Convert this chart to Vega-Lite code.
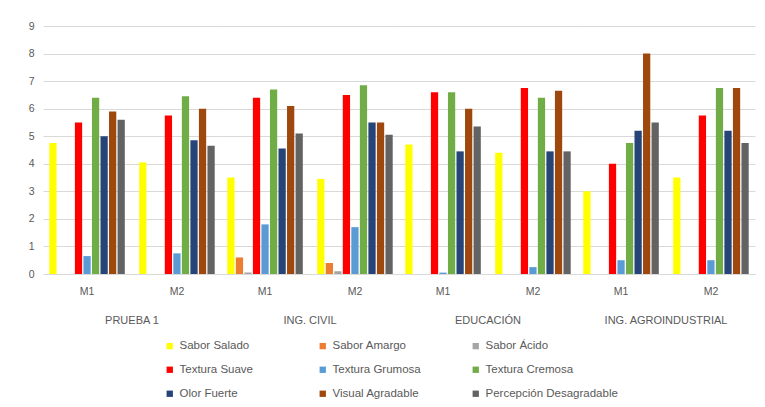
{
  "$schema": "https://vega.github.io/schema/vega-lite/v6.json",
  "background": "white",
  "padding": {"left": 28, "top": 21, "right": 5, "bottom": 5},
  "config": {
    "font": "Liberation Sans",
    "view": {"stroke": null},
    "axis": {"labelColor": "#595959", "labelFontSize": 10.5, "titleColor": "#595959"},
    "header": {"labelColor": "#595959", "labelFontSize": 11}
  },
  "data": {"values": [
    {"grupo": "PRUEBA 1", "muestra": "M1", "serie": "Sabor Salado", "valor": 4.75},
    {"grupo": "PRUEBA 1", "muestra": "M1", "serie": "Sabor Amargo", "valor": 0},
    {"grupo": "PRUEBA 1", "muestra": "M1", "serie": "Sabor Ácido", "valor": 0},
    {"grupo": "PRUEBA 1", "muestra": "M1", "serie": "Textura Suave", "valor": 5.5},
    {"grupo": "PRUEBA 1", "muestra": "M1", "serie": "Textura Grumosa", "valor": 0.65},
    {"grupo": "PRUEBA 1", "muestra": "M1", "serie": "Textura Cremosa", "valor": 6.4},
    {"grupo": "PRUEBA 1", "muestra": "M1", "serie": "Olor Fuerte", "valor": 5.0},
    {"grupo": "PRUEBA 1", "muestra": "M1", "serie": "Visual Agradable", "valor": 5.9},
    {"grupo": "PRUEBA 1", "muestra": "M1", "serie": "Percepción Desagradable", "valor": 5.6},
    {"grupo": "PRUEBA 1", "muestra": "M2", "serie": "Sabor Salado", "valor": 4.05},
    {"grupo": "PRUEBA 1", "muestra": "M2", "serie": "Sabor Amargo", "valor": 0},
    {"grupo": "PRUEBA 1", "muestra": "M2", "serie": "Sabor Ácido", "valor": 0},
    {"grupo": "PRUEBA 1", "muestra": "M2", "serie": "Textura Suave", "valor": 5.75},
    {"grupo": "PRUEBA 1", "muestra": "M2", "serie": "Textura Grumosa", "valor": 0.75},
    {"grupo": "PRUEBA 1", "muestra": "M2", "serie": "Textura Cremosa", "valor": 6.45},
    {"grupo": "PRUEBA 1", "muestra": "M2", "serie": "Olor Fuerte", "valor": 4.85},
    {"grupo": "PRUEBA 1", "muestra": "M2", "serie": "Visual Agradable", "valor": 6.0},
    {"grupo": "PRUEBA 1", "muestra": "M2", "serie": "Percepción Desagradable", "valor": 4.65},
    {"grupo": "ING. CIVIL", "muestra": "M1", "serie": "Sabor Salado", "valor": 3.5},
    {"grupo": "ING. CIVIL", "muestra": "M1", "serie": "Sabor Amargo", "valor": 0.6},
    {"grupo": "ING. CIVIL", "muestra": "M1", "serie": "Sabor Ácido", "valor": 0.05},
    {"grupo": "ING. CIVIL", "muestra": "M1", "serie": "Textura Suave", "valor": 6.4},
    {"grupo": "ING. CIVIL", "muestra": "M1", "serie": "Textura Grumosa", "valor": 1.8},
    {"grupo": "ING. CIVIL", "muestra": "M1", "serie": "Textura Cremosa", "valor": 6.7},
    {"grupo": "ING. CIVIL", "muestra": "M1", "serie": "Olor Fuerte", "valor": 4.55},
    {"grupo": "ING. CIVIL", "muestra": "M1", "serie": "Visual Agradable", "valor": 6.1},
    {"grupo": "ING. CIVIL", "muestra": "M1", "serie": "Percepción Desagradable", "valor": 5.1},
    {"grupo": "ING. CIVIL", "muestra": "M2", "serie": "Sabor Salado", "valor": 3.45},
    {"grupo": "ING. CIVIL", "muestra": "M2", "serie": "Sabor Amargo", "valor": 0.4},
    {"grupo": "ING. CIVIL", "muestra": "M2", "serie": "Sabor Ácido", "valor": 0.1},
    {"grupo": "ING. CIVIL", "muestra": "M2", "serie": "Textura Suave", "valor": 6.5},
    {"grupo": "ING. CIVIL", "muestra": "M2", "serie": "Textura Grumosa", "valor": 1.7},
    {"grupo": "ING. CIVIL", "muestra": "M2", "serie": "Textura Cremosa", "valor": 6.85},
    {"grupo": "ING. CIVIL", "muestra": "M2", "serie": "Olor Fuerte", "valor": 5.5},
    {"grupo": "ING. CIVIL", "muestra": "M2", "serie": "Visual Agradable", "valor": 5.5},
    {"grupo": "ING. CIVIL", "muestra": "M2", "serie": "Percepción Desagradable", "valor": 5.05},
    {"grupo": "EDUCACIÓN", "muestra": "M1", "serie": "Sabor Salado", "valor": 4.7},
    {"grupo": "EDUCACIÓN", "muestra": "M1", "serie": "Sabor Amargo", "valor": 0},
    {"grupo": "EDUCACIÓN", "muestra": "M1", "serie": "Sabor Ácido", "valor": 0},
    {"grupo": "EDUCACIÓN", "muestra": "M1", "serie": "Textura Suave", "valor": 6.6},
    {"grupo": "EDUCACIÓN", "muestra": "M1", "serie": "Textura Grumosa", "valor": 0.05},
    {"grupo": "EDUCACIÓN", "muestra": "M1", "serie": "Textura Cremosa", "valor": 6.6},
    {"grupo": "EDUCACIÓN", "muestra": "M1", "serie": "Olor Fuerte", "valor": 4.45},
    {"grupo": "EDUCACIÓN", "muestra": "M1", "serie": "Visual Agradable", "valor": 6.0},
    {"grupo": "EDUCACIÓN", "muestra": "M1", "serie": "Percepción Desagradable", "valor": 5.35},
    {"grupo": "EDUCACIÓN", "muestra": "M2", "serie": "Sabor Salado", "valor": 4.4},
    {"grupo": "EDUCACIÓN", "muestra": "M2", "serie": "Sabor Amargo", "valor": 0},
    {"grupo": "EDUCACIÓN", "muestra": "M2", "serie": "Sabor Ácido", "valor": 0},
    {"grupo": "EDUCACIÓN", "muestra": "M2", "serie": "Textura Suave", "valor": 6.75},
    {"grupo": "EDUCACIÓN", "muestra": "M2", "serie": "Textura Grumosa", "valor": 0.25},
    {"grupo": "EDUCACIÓN", "muestra": "M2", "serie": "Textura Cremosa", "valor": 6.4},
    {"grupo": "EDUCACIÓN", "muestra": "M2", "serie": "Olor Fuerte", "valor": 4.45},
    {"grupo": "EDUCACIÓN", "muestra": "M2", "serie": "Visual Agradable", "valor": 6.65},
    {"grupo": "EDUCACIÓN", "muestra": "M2", "serie": "Percepción Desagradable", "valor": 4.45},
    {"grupo": "ING. AGROINDUSTRIAL", "muestra": "M1", "serie": "Sabor Salado", "valor": 3.0},
    {"grupo": "ING. AGROINDUSTRIAL", "muestra": "M1", "serie": "Sabor Amargo", "valor": 0},
    {"grupo": "ING. AGROINDUSTRIAL", "muestra": "M1", "serie": "Sabor Ácido", "valor": 0},
    {"grupo": "ING. AGROINDUSTRIAL", "muestra": "M1", "serie": "Textura Suave", "valor": 4.0},
    {"grupo": "ING. AGROINDUSTRIAL", "muestra": "M1", "serie": "Textura Grumosa", "valor": 0.5},
    {"grupo": "ING. AGROINDUSTRIAL", "muestra": "M1", "serie": "Textura Cremosa", "valor": 4.75},
    {"grupo": "ING. AGROINDUSTRIAL", "muestra": "M1", "serie": "Olor Fuerte", "valor": 5.2},
    {"grupo": "ING. AGROINDUSTRIAL", "muestra": "M1", "serie": "Visual Agradable", "valor": 8.0},
    {"grupo": "ING. AGROINDUSTRIAL", "muestra": "M1", "serie": "Percepción Desagradable", "valor": 5.5},
    {"grupo": "ING. AGROINDUSTRIAL", "muestra": "M2", "serie": "Sabor Salado", "valor": 3.5},
    {"grupo": "ING. AGROINDUSTRIAL", "muestra": "M2", "serie": "Sabor Amargo", "valor": 0},
    {"grupo": "ING. AGROINDUSTRIAL", "muestra": "M2", "serie": "Sabor Ácido", "valor": 0},
    {"grupo": "ING. AGROINDUSTRIAL", "muestra": "M2", "serie": "Textura Suave", "valor": 5.75},
    {"grupo": "ING. AGROINDUSTRIAL", "muestra": "M2", "serie": "Textura Grumosa", "valor": 0.5},
    {"grupo": "ING. AGROINDUSTRIAL", "muestra": "M2", "serie": "Textura Cremosa", "valor": 6.75},
    {"grupo": "ING. AGROINDUSTRIAL", "muestra": "M2", "serie": "Olor Fuerte", "valor": 5.2},
    {"grupo": "ING. AGROINDUSTRIAL", "muestra": "M2", "serie": "Visual Agradable", "valor": 6.75},
    {"grupo": "ING. AGROINDUSTRIAL", "muestra": "M2", "serie": "Percepción Desagradable", "valor": 4.75}
  ]},
  "facet": {
    "column": {
      "field": "grupo",
      "type": "nominal",
      "sort": ["PRUEBA 1", "ING. CIVIL", "EDUCACIÓN", "ING. AGROINDUSTRIAL"],
      "header": {"title": null, "labelOrient": "bottom", "labelPadding": 18, "labelFontSize": 11}
    }
  },
  "spacing": 0,
  "spec": {
    "width": 178,
    "height": 248,
    "mark": {"type": "bar"},
    "encoding": {
      "x": {
        "field": "muestra", "type": "nominal", "title": null,
        "scale": {"paddingInner": 0.16, "paddingOuter": 0.07},
        "axis": {"labelAngle": 0, "ticks": false, "domainColor": "#d9d9d9", "labelPadding": 12}
      },
      "xOffset": {
        "field": "serie", "type": "nominal",
        "sort": ["Sabor Salado", "Sabor Amargo", "Sabor Ácido", "Textura Suave", "Textura Grumosa", "Textura Cremosa", "Olor Fuerte", "Visual Agradable", "Percepción Desagradable"],
        "scale": {"paddingInner": 0.15}
      },
      "y": {
        "field": "valor", "type": "quantitative", "title": null,
        "scale": {"domain": [0, 9], "nice": false},
        "axis": {"values": [0, 1, 2, 3, 4, 5, 6, 7, 8, 9], "domain": false, "ticks": false, "gridColor": "#d9d9d9", "labelPadding": 9}
      },
      "color": {
        "field": "serie", "type": "nominal",
        "sort": ["Sabor Salado", "Sabor Amargo", "Sabor Ácido", "Textura Suave", "Textura Grumosa", "Textura Cremosa", "Olor Fuerte", "Visual Agradable", "Percepción Desagradable"],
        "scale": {
          "domain": ["Sabor Salado", "Sabor Amargo", "Sabor Ácido", "Textura Suave", "Textura Grumosa", "Textura Cremosa", "Olor Fuerte", "Visual Agradable", "Percepción Desagradable"],
          "range": ["#FFFF00", "#ED7D31", "#A5A5A5", "#FF0000", "#5B9BD5", "#70AD47", "#264478", "#9E480E", "#636363"]
        },
        "legend": {
          "orient": "none", "legendX": 121, "legendY": 314, "title": null, "columns": 3, "direction": "horizontal",
          "gridAlign": "all",
          "symbolType": "square", "symbolSize": 40, "labelFontSize": 11.5, "labelColor": "#595959",
          "columnPadding": 5, "rowPadding": 11, "labelLimit": 220
        }
      }
    }
  }
}
